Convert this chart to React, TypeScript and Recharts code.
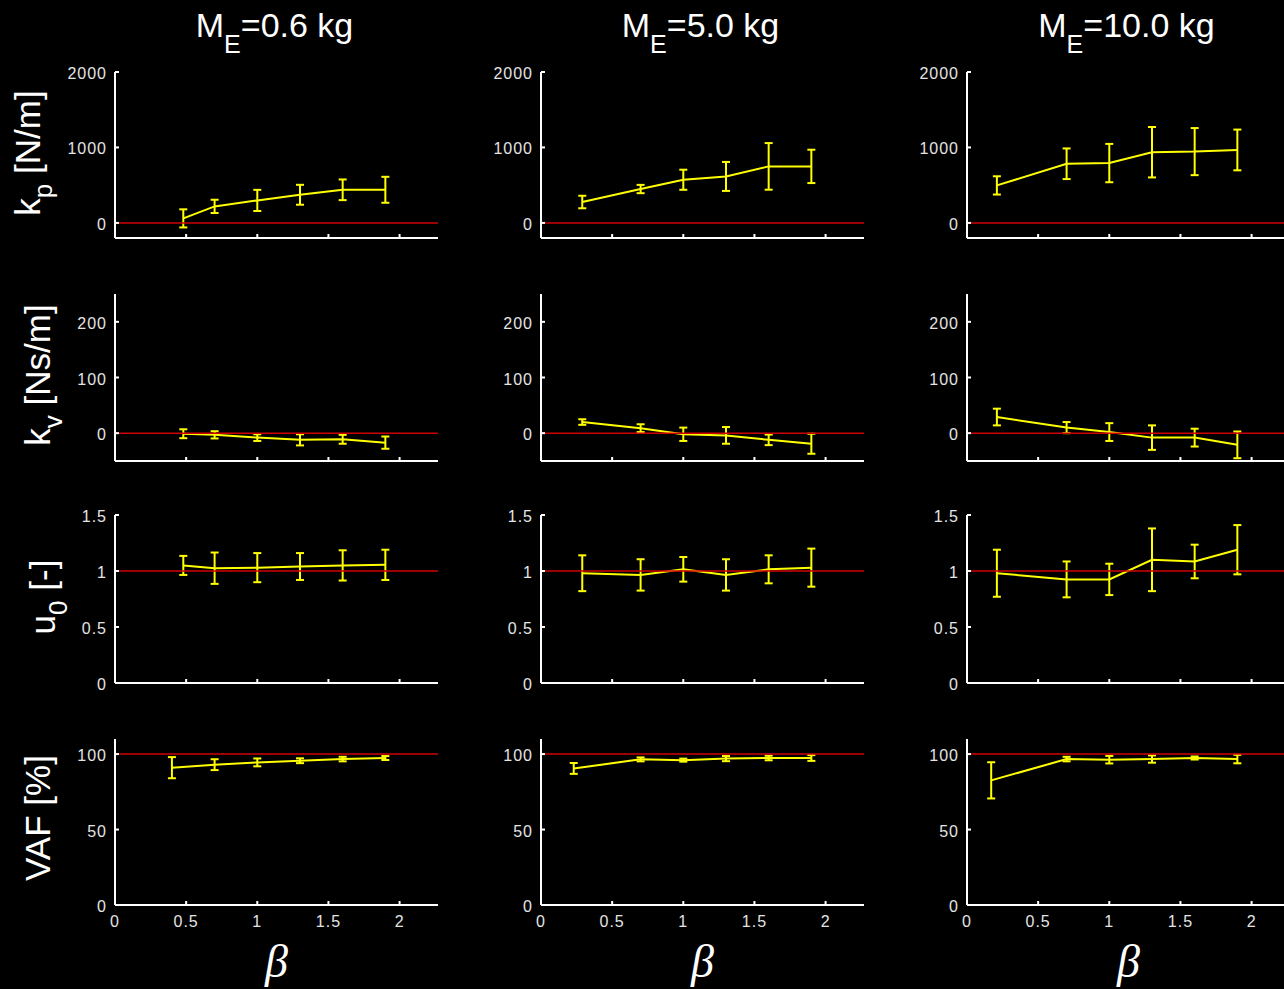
import { LineChart, Line, XAxis, YAxis, ReferenceLine, ErrorBar } from "recharts";

// effective mass per column
const masses = ["0.6", "5.0", "10.0"];

// beta values (first point differs per mass, VAF row has its own first point)
const betaFit = [
  [0.48, 0.7, 1.0, 1.3, 1.6, 1.9],
  [0.29, 0.7, 1.0, 1.3, 1.6, 1.9],
  [0.21, 0.7, 1.0, 1.3, 1.6, 1.9],
];
const betaVaf = [
  [0.4, 0.7, 1.0, 1.3, 1.6, 1.9],
  [0.23, 0.7, 1.0, 1.3, 1.6, 1.9],
  [0.17, 0.7, 1.0, 1.3, 1.6, 1.9],
];

const kpMean = [
  [60, 219, 298, 373, 439, 439],
  [277, 449, 572, 616, 749, 749],
  [497, 784, 793, 937, 945, 967],
];
const kpErr = [
  [120, 88, 140, 132, 137, 172],
  [83, 55, 133, 192, 309, 221],
  [121, 203, 254, 334, 312, 270],
];

const kvMean = [
  [-1, -3, -8, -12, -11, -17],
  [20, 9, -2, -4, -12, -19],
  [29, 10, 2, -8, -8, -21],
];
const kvErr = [
  [8, 6.5, 6, 10, 8, 11],
  [5, 7, 12, 15, 9.5, 18],
  [15, 10, 16, 22, 16, 24],
];

const u0Mean = [
  [1.05, 1.025, 1.03, 1.04, 1.05, 1.055],
  [0.98, 0.965, 1.015, 0.965, 1.015, 1.03],
  [0.98, 0.925, 0.925, 1.1, 1.085, 1.19],
];
const u0Err = [
  [0.085, 0.14, 0.13, 0.12, 0.135, 0.135],
  [0.16, 0.14, 0.11, 0.14, 0.125, 0.17],
  [0.21, 0.16, 0.14, 0.28, 0.15, 0.22],
];

const vafMean = [
  [91, 93, 94.5, 95.6, 96.7, 97.4],
  [90.5, 96.5, 96, 97, 97.4, 97.4],
  [82.6, 96.7, 96.3, 96.7, 97.4, 96.7],
];
const vafErr = [
  [7, 3.6, 2.6, 1.6, 1.5, 1.3],
  [3.6, 1.3, 1, 1.7, 1.5, 1.9],
  [12, 1.5, 2.5, 2.4, 1, 2.8],
];

const xTicks = [0, 0.5, 1, 1.5, 2];
const kpTicks = [0, 1000, 2000];
const kvTicks = [0, 100, 200];
const u0Ticks = [0, 0.5, 1, 1.5];
const vafTicks = [0, 50, 100];

const ROWS = [
  { name: "k", sub: "p", unit: " [N/m]", mean: kpMean, err: kpErr, beta: betaFit, domain: [-200, 2000], ticks: kpTicks, ref: 0 },
  { name: "k", sub: "v", unit: " [Ns/m]", mean: kvMean, err: kvErr, beta: betaFit, domain: [-50, 250], ticks: kvTicks, ref: 0 },
  { name: "u", sub: "0", unit: " [-]", mean: u0Mean, err: u0Err, beta: betaFit, domain: [0, 1.5], ticks: u0Ticks, ref: 1 },
  { name: "VAF [%]", sub: "", unit: "", mean: vafMean, err: vafErr, beta: betaVaf, domain: [0, 110], ticks: vafTicks, ref: 100 },
];

// layout (px)
const COL_LEFT = [115, 541, 967];
const ROW_TOP = [72, 294, 515, 739];
const ROW_H = [166, 167, 168, 166];
const LABEL_X = [40, 50, 55, 50];
const LABEL_Y = [153, 375, 597, 818];
const PLOT_W = 323;
const Y_W = 60;
const M_TOP = 10;
const X_H = 32;

const sans = "'Liberation Sans', Arial, Helvetica, sans-serif";
const axisStyle = { stroke: "#ffffff", strokeWidth: 2 };

function YTick(props: any) {
  const { x, y, payload } = props;
  return (
    <text x={x} y={y} dy={7} textAnchor="end" fill="#e4e4e4" fontSize={16} letterSpacing={1} fontFamily={sans}>
      {payload.value}
    </text>
  );
}

function XTick(props: any) {
  const { x, y, payload } = props;
  return (
    <text x={x} y={y} dy="0.71em" textAnchor="middle" fill="#e4e4e4" fontSize={16} letterSpacing={1} fontFamily={sans}>
      {payload.value}
    </text>
  );
}

function Cell({ row, col }: { row: number; col: number }) {
  const r = ROWS[row];
  const data = r.beta[col].map((b, i) => ({ beta: b, value: r.mean[col][i], err: r.err[col][i] }));
  const bottom = row === ROWS.length - 1;
  return (
    <div style={{ position: "absolute", left: COL_LEFT[col] - Y_W, top: ROW_TOP[row] - M_TOP }}>
      <LineChart
        width={Y_W + PLOT_W}
        height={M_TOP + ROW_H[row] + X_H}
        data={data}
        margin={{ top: M_TOP, right: 0, bottom: 0, left: 0 }}
      >
        <XAxis
          dataKey="beta"
          type="number"
          domain={[0, 2.27]}
          allowDataOverflow
          ticks={xTicks}
          interval={0}
          height={X_H}
          axisLine={axisStyle}
          tickLine={axisStyle}
          tickSize={-4}
          tickMargin={15}
          tick={(p: any) => (bottom ? <XTick {...p} /> : <g />)}
        />
        <YAxis
          type="number"
          domain={r.domain}
          allowDataOverflow
          ticks={r.ticks}
          interval={0}
          width={Y_W}
          axisLine={axisStyle}
          tickLine={axisStyle}
          tickSize={-4}
          tickMargin={12}
          tick={<YTick />}
        />
        <Line
          dataKey="value"
          stroke="#ffff00"
          strokeWidth={2}
          dot={false}
          activeDot={false}
          isAnimationActive={false}
        >
          <ErrorBar dataKey="err" direction="y" width={4} stroke="#ffff00" strokeWidth={2} isAnimationActive={false} />
        </Line>
        <ReferenceLine y={r.ref} stroke="#d00000" strokeWidth={1.5} />
      </LineChart>
    </div>
  );
}

export default function App() {
  return (
    <div
      style={{
        position: "absolute",
        left: 0,
        top: 0,
        width: 1284,
        height: 989,
        background: "#000",
        overflow: "hidden",
      }}
    >
      <svg width={1284} height={989} style={{ position: "absolute", left: 0, top: 0 }}>
        {masses.map((m, c) => (
          <text
            key={"t" + c}
            x={COL_LEFT[c] + PLOT_W / 2 - 2}
            y={37}
            textAnchor="middle"
            fill="#fff"
            fontSize={34}
            fontFamily={sans}
          >
            M
            <tspan dy={16} fontSize={25}>E</tspan>
            <tspan dy={-16}>={m} kg</tspan>
          </text>
        ))}
        {ROWS.map((r, i) => (
          <text
            key={"y" + i}
            transform={`translate(${LABEL_X[i]},${LABEL_Y[i]}) rotate(-90)`}
            textAnchor="middle"
            fill="#fff"
            fontSize={35}
            fontFamily={sans}
          >
            {r.name}
            {r.sub && (
              <tspan dy={12} fontSize={26}>
                {r.sub}
              </tspan>
            )}
            {r.sub && <tspan dy={-12}>{r.unit}</tspan>}
          </text>
        ))}
        {masses.map((m, c) => (
          <text
            key={"b" + c}
            x={COL_LEFT[c] + PLOT_W / 2}
            y={977}
            textAnchor="middle"
            fill="#fff"
            fontSize={46}
            fontStyle="italic"
            fontFamily="'Liberation Serif', 'DejaVu Serif', serif"
          >
            β
          </text>
        ))}
      </svg>
      {ROWS.map((_, row) => masses.map((_, col) => <Cell key={row + "-" + col} row={row} col={col} />))}
    </div>
  );
}
